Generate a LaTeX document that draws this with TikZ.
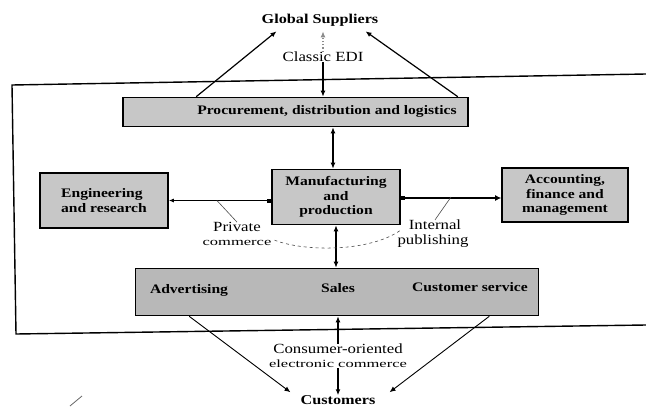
\documentclass[tikz,border=0pt]{standalone}
\usepackage{fontspec}
\setmainfont{Liberation Serif}[FakeStretch=1.2]
\newfontfamily\widefont{Liberation Serif}[FakeStretch=1.5]
\usetikzlibrary{arrows.meta,calc}
\begin{document}
\begin{tikzpicture}[x=1pt,y=-1pt,
  box/.style={draw=black, line width=1.6pt, fill=black!22, inner sep=0pt,
    font=\fontsize{13}{14.5}\selectfont\bfseries, align=center},
  btxt/.style={font=\fontsize{13}{14.5}\selectfont\bfseries, inner sep=0pt, align=center},
  lbl/.style={font=\fontsize{14}{15}\selectfont, inner sep=0pt, align=center},
  sm/.style={font=\widefont\fontsize{11}{12}\selectfont, inner sep=0pt},
  con/.style={line width=1.2pt},
  thincon/.style={line width=0.9pt},
  ptr/.style={line width=0.6pt, black!70},
  tip/.style={-{Latex[length=6pt,width=5pt]}},
  dtip/.style={{Latex[length=6pt,width=5pt]}-{Latex[length=6pt,width=5pt]}},
]
\useasboundingbox (0,0) rectangle (646,407);

% frame (open on the right)
\draw[line width=1.4pt] (646,74) -- (12,85) -- (16,334) -- (646,325);

% nodes
\node[btxt, font=\fontsize{13.5}{15}\selectfont\bfseries] (gs) at (320,20) {Global Suppliers};
\node[lbl] (edi) at (323,57) {Classic EDI};
\node[box, minimum width=345pt, minimum height=29pt] (proc) at (295.5,112) {};
\node[btxt] (proct) at (327,111) {Procurement, distribution and logistics};
\node[box, minimum width=128pt, minimum height=55pt, align=left] (eng) at (104,200.5) {Engineering\\and research};
\node[box, minimum width=128pt, minimum height=55pt] (mfg) at (336,197) {Manufacturing\\and\\production};
\node[box, minimum width=126pt, minimum height=54pt] (acc) at (565,195) {Accounting,\\finance and\\management};
\node[box, minimum width=403pt, minimum height=47pt, fill=black!28] (sales) at (337,292) {};
\node[btxt] (adv) at (189,290) {Advertising};
\node[btxt] (sal) at (338,288) {Sales};
\node[btxt] (cs) at (470,287) {Customer service};
\node[lbl] (priv) at (237,227) {Private};
\node[sm] (pcom) at (237,243) {commerce};
\node[lbl] (intl) at (435,225) {Internal};
\node[lbl] (publ) at (433,241) {publishing};
\node[lbl] (cons) at (338,349) {Consumer-oriented};
\node[sm] (ecom) at (338,364) {electronic commerce};
\node[btxt, font=\fontsize{13.5}{15}\selectfont\bfseries] (cust) at (338,400) {Customers};

% connectors to global suppliers
\draw[con,tip] ([xshift=74pt]proc.north west) -- ([xshift=15pt,yshift=-5pt]gs.south west);
\draw[con,tip] ([xshift=-11pt]proc.north east) -- ([xshift=-13pt,yshift=-5pt]gs.south east);
\draw[con,black!45,dotted,tip,shorten >=5pt] (edi.north) -- (edi.north |- gs.south);
\draw[con,tip] (edi.south) -- (edi.south |- proc.north);

% internal connectors
\draw[con,dtip] ([xshift=-3pt]mfg.north) -- ([xshift=-3pt]mfg.north |- proc.south);
\draw[con,dtip] (mfg.south) -- (mfg.south |- sales.north);
\draw[con,{Latex[length=5pt,width=4pt]}-{Square[length=4pt,width=4pt]}] (eng.east) -- (eng.east -| mfg.west);
\draw[con,{Square[length=4pt,width=4pt]}-{Latex[length=6pt,width=6pt]}] ([yshift=-1pt]mfg.east) -- ([yshift=-1pt]mfg.east -| acc.west);

% label pointers
\coordinate (pp) at ($(eng.east)!0.47!(eng.east -| mfg.west)$);
\draw[ptr] (pp) -- (priv.north);
\coordinate (ip) at ($(mfg.east)!0.5!(mfg.east -| acc.west)$);
\draw[ptr] (ip) -- (intl.north);
\draw[ptr, dashed] ([xshift=3pt]pcom.north east) .. controls (305,252) and (370,252) .. ([xshift=-8pt]intl.south west);

% bottom connectors
\draw[thincon,tip] ([xshift=54.5pt]sales.south west) -- ([xshift=-10pt,yshift=3pt]cust.north west);
\draw[thincon,tip] ([xshift=-50pt]sales.south east) -- ([xshift=14pt,yshift=3pt]cust.north east);
\draw[con,tip] (cons.north) -- (cons.north |- sales.south);
\draw[con,tip] (ecom.south) -- (cust.north);

% stray scan mark
\draw[black!60, line width=0.8pt] (70,406) -- (82,396);
\end{tikzpicture}
\end{document}
